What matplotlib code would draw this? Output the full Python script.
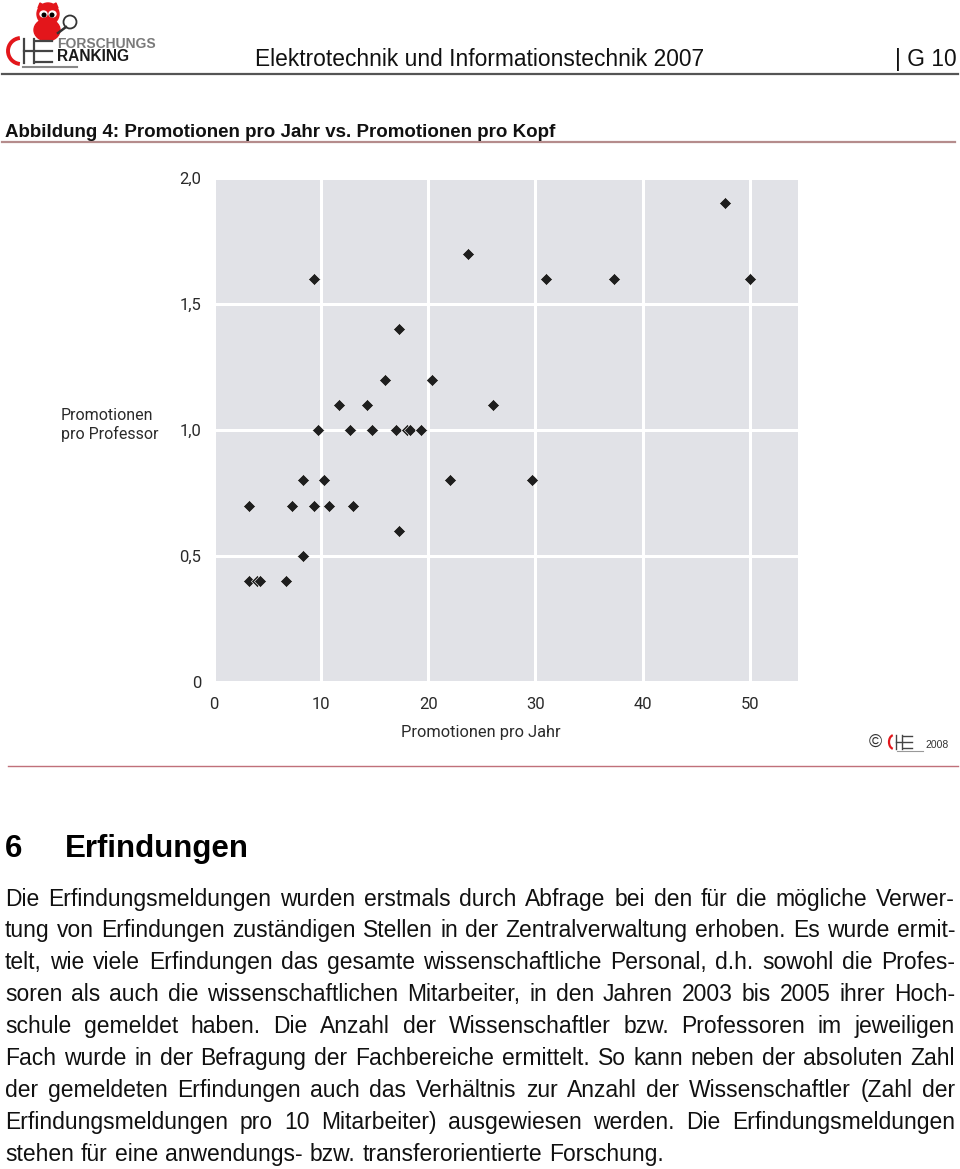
import matplotlib
matplotlib.use("Agg")
import matplotlib.pyplot as plt
from matplotlib.patches import Ellipse, Circle, Arc, Polygon
import numpy as np

# Promotionen pro Jahr (x) vs. Promotionen pro Professor (y)
promotionen_pro_jahr = [9.3, 23.7, 31.0, 37.3, 47.7, 50.0, 17.3, 16.0, 20.3, 11.7,
                        14.3, 26.0, 9.7, 12.7, 14.7, 17.0, 18.0, 18.3, 19.3, 8.3,
                        10.3, 22.0, 29.7, 3.3, 7.3, 9.3, 10.7, 13.0, 17.3, 8.3,
                        3.3, 4.0, 4.3, 6.7]
promotionen_pro_prof = [1.6, 1.7, 1.6, 1.6, 1.9, 1.6, 1.4, 1.2, 1.2, 1.1,
                        1.1, 1.1, 1.0, 1.0, 1.0, 1.0, 1.0, 1.0, 1.0, 0.8,
                        0.8, 0.8, 0.8, 0.7, 0.7, 0.7, 0.7, 0.7, 0.6, 0.5,
                        0.4, 0.4, 0.4, 0.4]
x_ticks = [0, 10, 20, 30, 40, 50]
y_ticks = [0, 0.5, 1.0, 1.5, 2.0]
y_tick_labels = ['0', '0,5', '1,0', '1,5', '2,0']

body_lines = [
    "Die Erfindungsmeldungen wurden erstmals durch Abfrage bei den für die mögliche Verwer-",
    "tung von Erfindungen zuständigen Stellen in der Zentralverwaltung erhoben. Es wurde ermit-",
    "telt, wie viele Erfindungen das gesamte wissenschaftliche Personal, d.h. sowohl die Profes-",
    "soren als auch die wissenschaftlichen Mitarbeiter, in den Jahren 2003 bis 2005 ihrer Hoch-",
    "schule gemeldet haben. Die Anzahl der Wissenschaftler bzw. Professoren im jeweiligen",
    "Fach wurde in der Befragung der Fachbereiche ermittelt. So kann neben der absoluten Zahl",
    "der gemeldeten Erfindungen auch das Verhältnis zur Anzahl der Wissenschaftler (Zahl der",
    "Erfindungsmeldungen pro 10 Mitarbeiter) ausgewiesen werden. Die Erfindungsmeldungen",
    "stehen für eine anwendungs- bzw. transferorientierte Forschung.",
]

W, H = 960, 1169
narrow = ['Roboto', 'DejaVu Sans']
arial = ['Liberation Sans', 'DejaVu Sans']

fig = plt.figure(figsize=(W / 100, H / 100), dpi=100)
fig.patch.set_facecolor('white')
renderer = fig.canvas.get_renderer()

# page overlay in pixel coordinates (y downwards)
pg = fig.add_axes([0, 0, 1, 1])
pg.set_xlim(0, W)
pg.set_ylim(H, 0)
pg.axis('off')

# --- logo ---
red = '#e3161b'
pg.add_patch(Ellipse((47, 30), 26, 22, color=red, zorder=2))
pg.add_patch(Circle((48, 14), 11, color=red, zorder=2))
pg.add_patch(Ellipse((43.5, 14), 7, 6, color='white', zorder=3))
pg.add_patch(Ellipse((52.5, 14), 7, 6, color='white', zorder=3))
pg.add_patch(Circle((44, 15), 1.8, color='black', zorder=4))
pg.add_patch(Circle((52, 15), 1.8, color='black', zorder=4))
pg.add_patch(Polygon([[40, 3], [45, 6], [38, 8]], closed=True, color=red, zorder=2))
pg.add_patch(Polygon([[56, 3], [51, 6], [58, 8]], closed=True, color=red, zorder=2))
pg.add_patch(Circle((70, 22), 6.5, fill=False, ec='#333333', lw=1.3, zorder=3))
pg.plot([66, 58], [27, 33], color='#333333', lw=1.8, zorder=3)
pg.add_patch(Arc((21, 51), 26, 26, theta1=95, theta2=265, color=red, lw=2.8))
pg.plot([24, 24], [39, 63], color='#444444', lw=1.6)
pg.plot([34, 34], [39, 63], color='#444444', lw=1.6)
pg.plot([24, 34], [51, 51], color='#444444', lw=1.6)
for yy in (41, 51, 62):
    pg.plot([36, 52], [yy, yy], color='#444444', lw=1.6)
pg.plot([23, 77], [67, 67], color='#888888', lw=1.5)
pg.text(57, 47.5, 'FORSCHUNGS', fontsize=10, fontweight='bold', color='#7a7a7a',
        family=arial, va='baseline')
pg.text(57, 61, 'RANKING', fontsize=11.2, fontweight='bold', color='#1a1a1a',
        family=arial, va='baseline')

# --- header ---
pg.text(255, 66, 'Elektrotechnik und Informationstechnik 2007', fontsize=16.4,
        family=arial, va='baseline', color='#111111')
pg.text(957, 66, '| G 10', fontsize=16.4, family=arial, va='baseline', ha='right',
        color='#111111')
pg.plot([2, 958], [74, 74], color='#555555', lw=1.6)
pg.text(5, 137, 'Abbildung 4: Promotionen pro Jahr vs. Promotionen pro Kopf',
        fontsize=13.5, fontweight='bold', family=arial, va='baseline', color='#111111')
pg.plot([2, 955], [141.5, 141.5], color='#b58c8c', lw=1.6)

# --- chart ---
ax = fig.add_axes([214 / W, 1 - 682 / H, (798 - 214) / W, (682 - 178) / H])
ax.set_facecolor('#e1e2e7')
ax.scatter(promotionen_pro_jahr, promotionen_pro_prof, marker='D', s=38,
           color='#1e1e1e', edgecolors='white', linewidths=0.4, zorder=3)
ax.set_xlim(0, 54.5)
ax.set_ylim(0, 2.0)
ax.set_xticks(x_ticks)
ax.set_yticks(y_ticks)
ax.set_yticklabels(y_tick_labels)
ax.grid(True, color='white', lw=2.2)
ax.set_axisbelow(True)
for s in ax.spines.values():
    s.set_visible(False)
ax.tick_params(length=0, labelsize=12, labelcolor='#2a2a2a')
ax.tick_params(axis='x', pad=11)
ax.tick_params(axis='y', pad=9)
for lab in ax.get_xticklabels() + ax.get_yticklabels():
    lab.set_family(narrow)
ax.set_xlabel('Promotionen pro Jahr', fontsize=11.8, family=narrow, color='#2a2a2a',
              va='center')
ax.xaxis.set_label_coords(0.457, -0.1)
ax.set_ylabel('Promotionen\npro Professor', fontsize=11.5, family=narrow, color='#2a2a2a',
              rotation=0, ha='left', va='center', multialignment='left')
ax.yaxis.set_label_coords(-0.262, 0.51)

# --- copyright mark ---
pg.text(869, 747, '©', fontsize=13, family=arial, va='baseline', color='#333333')
pg.add_patch(Arc((894, 742), 10, 14, theta1=100, theta2=260, color=red, lw=1.6))
pg.plot([896, 896], [735, 749], color='#444444', lw=1.0)
pg.plot([902, 902], [735, 749], color='#444444', lw=1.0)
pg.plot([896, 902], [742, 742], color='#444444', lw=1.0)
for yy in (736, 742, 748):
    pg.plot([903, 912], [yy, yy], color='#444444', lw=1.0)
pg.plot([897, 923], [750.5, 750.5], color='#999999', lw=0.8)
pg.text(925, 748, '2008', fontsize=7.5, family=arial, va='baseline', color='#333333')
pg.plot([8, 958], [765.5, 765.5], color='#c0707a', lw=1.0)

# --- section text ---
pg.text(5, 857, '6', fontsize=22.5, fontweight='bold', family=arial, va='baseline')
pg.text(65, 857, 'Erfindungen', fontsize=22.5, fontweight='bold', family=arial, va='baseline')

# body font size chosen so the last (unjustified) line ends where it does in the reference
probe = pg.text(0, 0, body_lines[-1], fontsize=14, family=arial)
fs = 14 * (664 - 5) / probe.get_window_extent(renderer).width
probe.remove()

x_left, x_right = 5, 955
for i, line in enumerate(body_lines):
    y = round(905.5 + 31.9 * i)   # whole pixels keep the words on one baseline
    words = line.split(' ')
    texts = [pg.text(0, y, w, fontsize=fs, family=arial, va='baseline', color='#111111')
             for w in words]
    widths = [t.get_window_extent(renderer).width for t in texts]
    if i < len(body_lines) - 1:
        gap = (x_right - x_left - sum(widths)) / (len(words) - 1)
    else:
        gap = (664 - 5 - sum(widths)) / (len(words) - 1)
    x = x_left
    for t, w in zip(texts, widths):
        t.set_x(x)
        x += w + gap

fig.savefig('out.png', dpi=100)
